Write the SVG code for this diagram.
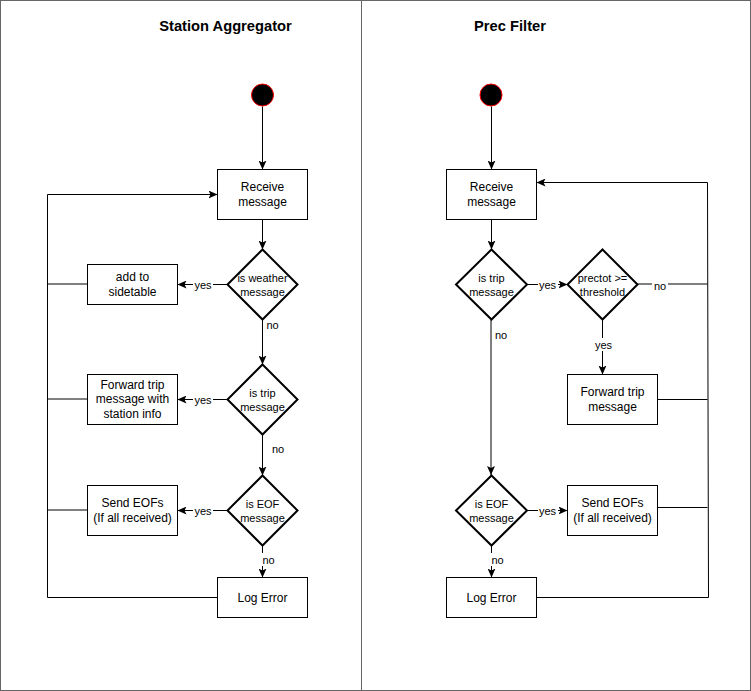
<svg xmlns="http://www.w3.org/2000/svg" width="751" height="691" viewBox="0 0 751 691">
<style>
text{font-family:"Liberation Sans",Arial,sans-serif;fill:#000;text-anchor:middle}
.title{font-size:14.7px;font-weight:bold}
.t{font-size:12px}
.d{font-size:11px}
.lbl{font-size:11px}
.box{fill:#fff;stroke:#000;stroke-width:1}
.dia{fill:#fff;stroke:#000;stroke-width:2}
.ln{fill:none;stroke:#000;stroke-width:1}
.arr{fill:none;stroke:#000;stroke-width:1;marker-end:url(#ah)}
.bg{fill:#fff}
.frame{fill:#fff;stroke:#666;stroke-width:1}
</style>
<defs>
<marker id="ah" markerUnits="userSpaceOnUse" viewBox="0 0 9 8" markerWidth="9" markerHeight="8" refX="9" refY="4" orient="auto">
<path d="M0,0 L9,4 L0,8 L2,4 z" fill="#000"/>
</marker>
</defs>
<g id="frame">
<rect class="frame" x="0.5" y="0.5" width="750" height="690"/>
<line x1="361.5" y1="0.5" x2="361.5" y2="690.5" stroke="#666" stroke-width="1"/>
<text class="title" x="225.5" y="31">Station Aggregator</text>
<text class="title" x="510" y="31">Prec Filter</text>
</g>
<g id="connectors">
<line class="arr" x1="262.5" y1="106.5" x2="262.5" y2="169.5"/>
<line class="arr" x1="262.5" y1="219.5" x2="262.5" y2="249.5"/>
<line class="arr" x1="227.5" y1="284.5" x2="177.5" y2="284.5"/>
<line class="ln" x1="87" y1="284" x2="47.5" y2="284" stroke="#000"/>
<line class="arr" x1="262.5" y1="319.5" x2="262.5" y2="364.5"/>
<line class="arr" x1="227.5" y1="399.5" x2="177.5" y2="399.5"/>
<line class="ln" x1="87" y1="399" x2="47.5" y2="399"/>
<line class="arr" x1="262.5" y1="434.5" x2="262.5" y2="475.5"/>
<line class="arr" x1="227.5" y1="510.5" x2="177.5" y2="510.5"/>
<line class="ln" x1="87" y1="510" x2="47.5" y2="510"/>
<line class="arr" x1="262.5" y1="545.5" x2="262.5" y2="577.5"/>
<polyline class="arr" points="217.5,597.5 47.5,597.5 47.5,194.5 217.5,194.5"/>

<line class="arr" x1="491.5" y1="106.5" x2="491.5" y2="169.5"/>
<line class="arr" x1="491.5" y1="219.5" x2="491.5" y2="249.5"/>
<line class="arr" x1="526.5" y1="284.5" x2="567.5" y2="284.5"/>
<line class="ln" x1="637.5" y1="284" x2="707.5" y2="284"/>
<line class="arr" x1="602.5" y1="319.5" x2="602.5" y2="374.5"/>
<line class="ln" x1="657.5" y1="399.5" x2="707.5" y2="399.5"/>
<line class="arr" x1="491" y1="319.5" x2="491" y2="475"/>
<line class="arr" x1="526.5" y1="510.5" x2="567.5" y2="510.5"/>
<line class="ln" x1="657.5" y1="507.5" x2="707.5" y2="507.5"/>
<line class="arr" x1="491.5" y1="545.5" x2="491.5" y2="577.5"/>
<polyline class="arr" points="536.5,597.5 708.5,597.5 707.5,182.5 536.5,182.5"/>

<rect class="bg" x="193" y="278" width="20" height="13"/>
<text class="lbl" x="203" y="288.5">yes</text>
<text class="lbl" x="272.5" y="329">no</text>
<rect class="bg" x="193" y="393" width="20" height="13"/>
<text class="lbl" x="203" y="403.5">yes</text>
<text class="lbl" x="278" y="453">no</text>
<rect class="bg" x="193" y="504" width="20" height="13"/>
<text class="lbl" x="203" y="514.5">yes</text>
<rect class="bg" x="261" y="553" width="15" height="13"/>
<text class="lbl" x="268.5" y="563.5">no</text>

<rect class="bg" x="538" y="278" width="20" height="13"/>
<text class="lbl" x="547.5" y="288.5">yes</text>
<rect class="bg" x="652" y="278" width="16" height="13"/>
<text class="lbl" x="660" y="289.5">no</text>
<rect class="bg" x="593" y="338" width="20" height="13"/>
<text class="lbl" x="603.5" y="348.5">yes</text>
<text class="lbl" x="501" y="339">no</text>
<rect class="bg" x="538" y="504" width="20" height="13"/>
<text class="lbl" x="547.5" y="514.5">yes</text>
<rect class="bg" x="490" y="553" width="15" height="13"/>
<text class="lbl" x="497.5" y="563.5">no</text>
</g>
<g id="start-left"><circle cx="262.5" cy="95" r="11" fill="#000" stroke="#f00" stroke-width="1"/></g>
<g id="receive-left"><rect class="box" x="217.5" y="169.5" width="90" height="50"/><text class="t" x="262.5" y="191">Receive</text><text class="t" x="262.5" y="206">message</text></g>
<g id="weather-left"><polygon class="dia" points="262.5,249.5 297.5,284.5 262.5,319.5 227.5,284.5"/><text class="d" x="262.5" y="281.5">is weather</text><text class="d" x="262.5" y="295.5">message</text></g>
<g id="sidetable-left"><rect class="box" x="87.5" y="264.5" width="90" height="40"/><text class="t" x="132.5" y="281">add to</text><text class="t" x="132.5" y="296">sidetable</text></g>
<g id="trip-left"><polygon class="dia" points="262.5,364.5 297.5,399.5 262.5,434.5 227.5,399.5"/><text class="d" x="262.5" y="396.5">is trip</text><text class="d" x="262.5" y="410.5">message</text></g>
<g id="forward-left"><rect class="box" x="87.5" y="374.5" width="90" height="50"/><text class="t" x="132.5" y="388.5">Forward trip</text><text class="t" x="132.5" y="403">message with</text><text class="t" x="132.5" y="417.5">station info</text></g>
<g id="eof-left"><polygon class="dia" points="262.5,475.5 297.5,510.5 262.5,545.5 227.5,510.5"/><text class="d" x="262.5" y="507.5">is EOF</text><text class="d" x="262.5" y="521.5">message</text></g>
<g id="sendeof-left"><rect class="box" x="87.5" y="485.5" width="90" height="50"/><text class="t" x="132.5" y="507">Send EOFs</text><text class="t" x="132.5" y="521.5">(If all received)</text></g>
<g id="logerror-left"><rect class="box" x="217.5" y="577.5" width="90" height="40"/><text class="t" x="262.5" y="601.5">Log Error</text></g>

<g id="start-right"><circle cx="491" cy="95" r="11" fill="#000" stroke="#f00" stroke-width="1"/></g>
<g id="receive-right"><rect class="box" x="446.5" y="169.5" width="90" height="50"/><text class="t" x="491.5" y="191">Receive</text><text class="t" x="491.5" y="206">message</text></g>
<g id="trip-right"><polygon class="dia" points="491.5,249.5 527,284.5 491.5,319.5 456,284.5"/><text class="d" x="491.5" y="281.5">is trip</text><text class="d" x="491.5" y="295.5">message</text></g>
<g id="prectot-right"><polygon class="dia" points="602.5,249.5 637.5,284.5 602.5,319.5 567.5,284.5"/><text class="d" x="602.5" y="281.5">prectot &gt;=</text><text class="d" x="602.5" y="295.5">threshold</text></g>
<g id="forward-right"><rect class="box" x="567.5" y="374.5" width="90" height="50"/><text class="t" x="612.5" y="396">Forward trip</text><text class="t" x="612.5" y="411">message</text></g>
<g id="eof-right"><polygon class="dia" points="491.5,475.5 527,510.5 491.5,545.5 456,510.5"/><text class="d" x="491.5" y="507.5">is EOF</text><text class="d" x="491.5" y="521.5">message</text></g>
<g id="sendeof-right"><rect class="box" x="567.5" y="485.5" width="90" height="50"/><text class="t" x="612.5" y="507">Send EOFs</text><text class="t" x="612.5" y="521.5">(If all received)</text></g>
<g id="logerror-right"><rect class="box" x="446.5" y="577.5" width="90" height="40"/><text class="t" x="491.5" y="601.5">Log Error</text></g>
</svg>
